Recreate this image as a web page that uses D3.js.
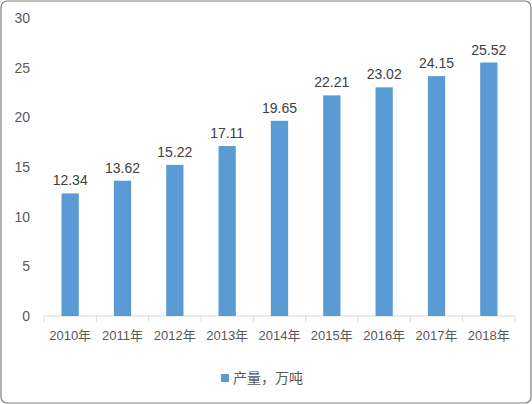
<!DOCTYPE html>
<html><head><meta charset="utf-8">
<script src="https://cdn.jsdelivr.net/npm/d3@7"></script>
<style>body{margin:0;background:#fff}</style></head>
<body><script>
const categories=["2010年","2011年","2012年","2013年","2014年","2015年","2016年","2017年","2018年"];
const values=[12.34,13.62,15.22,17.11,19.65,22.21,23.02,24.15,25.52];
const yTicks=[0,5,10,15,20,25,30];
const seriesName="产量，万吨";
const W=532,H=404;
const svg=d3.select("body").append("svg").attr("width",W).attr("height",H);
svg.append("rect").attr("x",1).attr("y",1).attr("width",W-2).attr("height",H-2).attr("rx",6)
 .attr("fill","#fff").attr("stroke","#7f7f7f").attr("stroke-width",1.2);
const font="'Liberation Sans','Noto Sans CJK SC',sans-serif";
const x=d3.scaleBand().domain(categories).range([44,515]).paddingInner(0.67).paddingOuter(0.335);
const y=d3.scaleLinear().domain([0,30]).range([316,18]);
const xb=d3.scaleBand().domain(categories).range([44,515]);
svg.append("g").selectAll("line").data(categories.concat(["end"])).join("line")
 .attr("x1",(d,i)=>44+i*xb.step()).attr("x2",(d,i)=>44+i*xb.step()).attr("y1",316).attr("y2",322)
 .attr("stroke","#d9d9d9");
svg.append("line").attr("x1",44).attr("x2",515).attr("y1",316).attr("y2",316).attr("stroke","#d9d9d9");
svg.append("g").selectAll("text").data(yTicks).join("text").attr("x",30).attr("y",d=>y(d)+5)
 .attr("text-anchor","end").attr("font-family",font).attr("font-size",14).attr("fill","#595959").text(d=>d);
svg.append("g").selectAll("rect").data(values).join("rect")
 .attr("x",(d,i)=>x(categories[i])).attr("width",x.bandwidth()).attr("y",d=>y(d)).attr("height",d=>316-y(d)).attr("fill","#5b9bd5");
svg.append("g").selectAll("text").data(values).join("text")
 .attr("x",(d,i)=>x(categories[i])+x.bandwidth()/2).attr("y",d=>y(d)-8).attr("text-anchor","middle")
 .attr("font-family",font).attr("font-size",14).attr("fill","#404040").text(d=>d.toFixed(2));
svg.append("g").selectAll("text").data(categories).join("text")
 .attr("x",d=>xb(d)+xb.bandwidth()/2).attr("y",340).attr("text-anchor","middle")
 .attr("font-family",font).attr("font-size",13).attr("fill","#595959").text(d=>d);
svg.append("rect").attr("x",221).attr("y",374).attr("width",8).attr("height",8).attr("fill","#5b9bd5");
svg.append("text").attr("x",233).attr("y",383).attr("font-family",font).attr("font-size",14).attr("fill","#595959").text(seriesName);
</script></body></html>
